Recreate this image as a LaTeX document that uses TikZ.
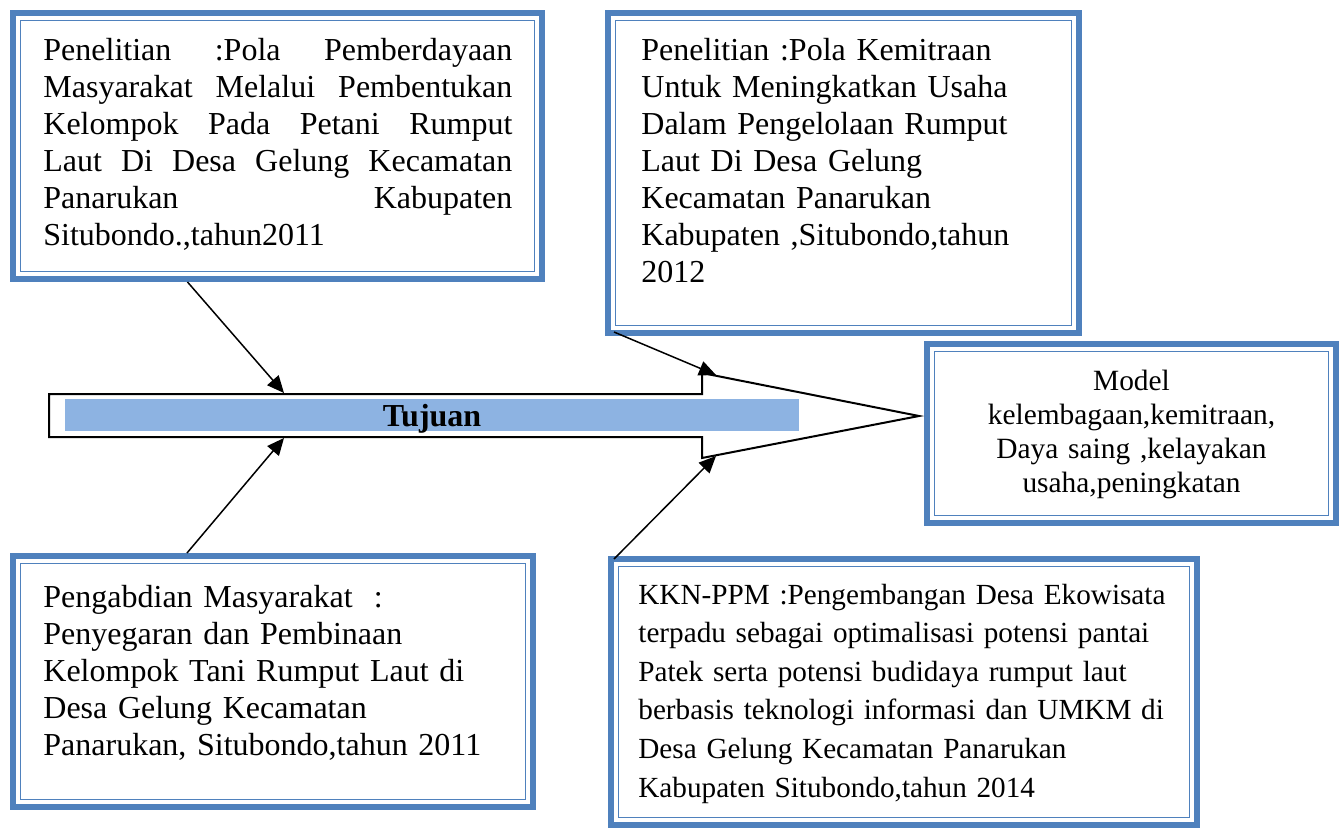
\documentclass[tikz,border=0pt]{standalone}
\usepackage{fontspec}
\setmainfont{Liberation Serif}
\usepackage{tikz}
\usetikzlibrary{shapes,arrows,arrows.meta}
\usetikzlibrary{positioning}
\usepackage{xcolor}
\definecolor{boxblue}{RGB}{79,129,189}
\definecolor{barblue}{RGB}{141,179,226}

\begin{document}
\begin{tikzpicture}[x=0.5pt, y=-0.5pt,
  docbox/.style={draw=boxblue, line width=3pt, fill=white,
    path picture={\draw[boxblue, line width=0.9pt]
      ([shift={(3.75pt,-3.75pt)}]path picture bounding box.north west) rectangle
      ([shift={(-3.75pt,3.75pt)}]path picture bounding box.south east);}},
  txt/.style={inner sep=0pt, text width=#1, align=left,
    font=\fontsize{16}{18.5}\selectfont},
  link/.style={-{Triangle[length=8.5pt,width=7.5pt]}, line width=0.75pt}]
  \useasboundingbox[fill=white] (0,0) rectangle (1342,829);

  % Boxes
  \node[docbox, minimum width=264.5pt, minimum height=133pt] (pola1) at (277.5,146) {};
  \node[docbox, minimum width=235.5pt, minimum height=160pt] (pola2) at (843.5,173) {};
  \node[docbox, minimum width=204.5pt, minimum height=89.5pt] (model) at (1131.5,433.5) {};
  \node[docbox, minimum width=260pt, minimum height=125.5pt] (abdi) at (273,681.5) {};
  \node[docbox, minimum width=293pt, minimum height=133pt] (kkn) at (904,692) {};

  % Texts
  \node[txt=234.5pt, align=justify, anchor=base west] (pola1txt) at ([shift={(33,51)}]pola1.north west)
    {Penelitian :Pola Pemberdayaan\linebreak Masyarakat Melalui Pembentukan\linebreak
     Kelompok Pada Petani Rumput\linebreak Laut Di Desa Gelung Kecamatan\linebreak
     Panarukan Kabupaten\linebreak Situbondo.,tahun2011};
  \node[txt=215pt, anchor=base west] (pola2txt) at ([shift={(36,51)}]pola2.north west)
    {Penelitian :Pola Kemitraan\\ Untuk Meningkatkan Usaha\\ Dalam Pengelolaan Rumput\\
     Laut Di Desa Gelung\\ Kecamatan Panarukan\\ Kabupaten ,Situbondo,tahun\\ 2012};
  \node[txt=190pt, align=center, anchor=base, font=\fontsize{14.7}{17}\selectfont] (modeltxt)
    at ([shift={(0,49)}]model.north)
    {Model\\ kelembagaan,kemitraan,\\ Daya saing ,kelayakan\\ usaha,peningkatan};
  \node[txt=235pt, anchor=base west] (abditxt) at ([shift={(33,54)}]abdi.north west)
    {Pengabdian Masyarakat\ \ :\\ Penyegaran dan Pembinaan\\ Kelompok Tani Rumput Laut di\\
     Desa Gelung Kecamatan\\ Panarukan, Situbondo,tahun 2011};
  \node[txt=285pt, anchor=base west, font=\fontsize{14.6}{19.3}\selectfont] (kkntxt)
    at ([shift={(30,48)}]kkn.north west)
    {KKN-PPM :Pengembangan Desa Ekowisata\\ terpadu sebagai optimalisasi potensi pantai\\
     Patek serta potensi budidaya rumput laut\\ berbasis teknologi informasi dan UMKM di\\
     Desa Gelung Kecamatan Panarukan\\ Kabupaten Situbondo,tahun 2014};

  % Big arrow
  \draw[line width=1pt, fill=white] (49,394) -- (702,394) -- (702,373) -- (919,416)
    -- (702,458) -- (702,437) -- (49,437) -- cycle;
  \node[fill=barblue, minimum width=367pt, minimum height=16pt, inner sep=0pt, text depth=0pt,
    font=\fontsize{16}{18}\selectfont\bfseries] (tujuan) at (432,415) {Tujuan};
  \coordinate (in1) at (284,393);
  \coordinate (in2) at (716,375);
  \coordinate (in3) at (284,438);
  \coordinate (in4) at (716,456);

  % Links into the arrow
  \draw[link] ([xshift=-45pt]pola1.south) -- (in1);
  \draw[link] ([shift={(9,-4)}]pola2.south west) -- (in2);
  \draw[link] ([xshift=-43pt]abdi.north) -- (in3);
  \draw[link] ([shift={(6,3)}]kkn.north west) -- (in4);
\end{tikzpicture}
\end{document}
